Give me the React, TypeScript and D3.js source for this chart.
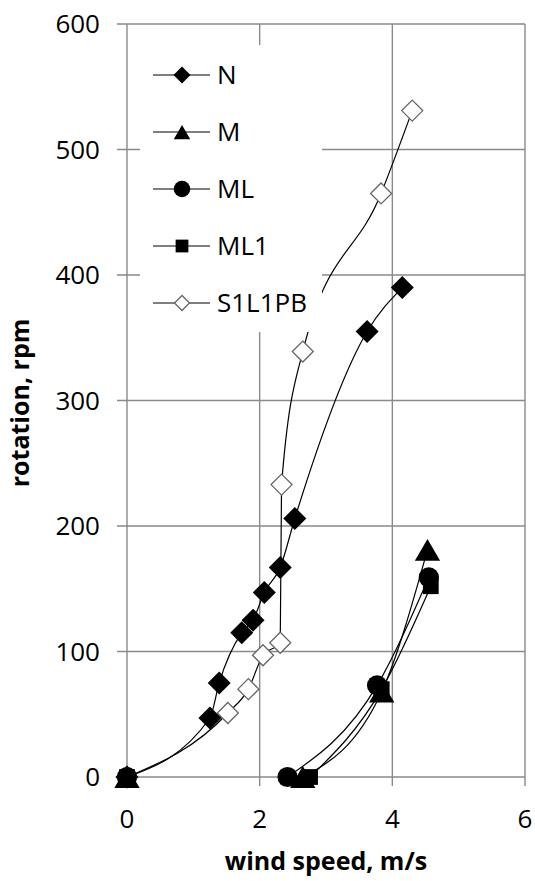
import React, { useEffect, useRef } from 'react'
import * as d3 from 'd3'

// wind speed (m/s) and rotation (rpm)
const nSpeed = [0, 1.25, 1.39, 1.73, 1.9, 2.07, 2.31, 2.53, 3.62, 4.15]
const nRpm = [0, 47, 75, 115, 125, 147, 167, 206, 355, 390]

const mSpeed = [0, 2.65, 3.84, 4.53]
const mRpm = [0, 0, 68, 181]

const mlSpeed = [0, 2.42, 3.77, 4.55]
const mlRpm = [0, 0, 73, 159]

const ml1Speed = [0, 2.76, 3.84, 4.58]
const ml1Rpm = [0, 0, 70, 152]

const sSpeed = [0, 1.52, 1.83, 2.05, 2.31, 2.33, 2.65, 3.83, 4.3]
const sRpm = [0, 51, 70, 97, 107, 233, 339, 465, 531]

const xTicks = [0, 2, 4, 6]
const yTicks = [0, 100, 200, 300, 400, 500, 600]

type Pt = { x: number; y: number }
type Series = { name: string; marker: string; pts: Pt[]; lineFrom: number }

const zip = (xs: number[], ys: number[]): Pt[] => xs.map((x, i) => ({ x, y: ys[i] }))

// the three M series have a lone marker at the origin, their lines start at the next point
const series: Series[] = [
  { name: 'N', marker: 'diamond', pts: zip(nSpeed, nRpm), lineFrom: 0 },
  { name: 'M', marker: 'triangle', pts: zip(mSpeed, mRpm), lineFrom: 1 },
  { name: 'ML', marker: 'circle', pts: zip(mlSpeed, mlRpm), lineFrom: 1 },
  { name: 'ML1', marker: 'square', pts: zip(ml1Speed, ml1Rpm), lineFrom: 1 },
  { name: 'S1L1PB', marker: 'open', pts: zip(sSpeed, sRpm), lineFrom: 0 },
]

const FONT = '"Open Sans", sans-serif'
const GRID = '#8a8a8a'

function drawMarker(g: d3.Selection<SVGGElement, unknown, null, undefined>, kind: string, cx: number, cy: number, s: number) {
  if (kind === 'diamond' || kind === 'open') {
    const r = s / 2
    g.append('path')
      .attr('d', `M${cx},${cy - r}L${cx + r},${cy}L${cx},${cy + r}L${cx - r},${cy}Z`)
      .attr('fill', kind === 'open' ? '#fff' : '#000')
      .attr('stroke', kind === 'open' ? '#666' : 'none')
      .attr('stroke-width', 1.3)
  } else if (kind === 'triangle') {
    const w = s * 1.1
    const h = s * 0.95
    g.append('path')
      .attr('d', `M${cx},${cy - h / 2}L${cx + w / 2},${cy + h / 2}L${cx - w / 2},${cy + h / 2}Z`)
      .attr('fill', '#000')
  } else if (kind === 'circle') {
    g.append('circle').attr('cx', cx).attr('cy', cy).attr('r', s * 0.46).attr('fill', '#000')
  } else {
    const a = s * 0.75
    g.append('rect').attr('x', cx - a / 2).attr('y', cy - a / 2).attr('width', a).attr('height', a).attr('fill', '#000')
  }
}

export default function App() {
  const svgRef = useRef<SVGSVGElement>(null)

  useEffect(() => {
    if (!svgRef.current) return
    const svg = d3.select(svgRef.current)
    svg.selectAll('*').remove()

    const left = 127
    const right = 525
    const top = 24
    const bottom = 777

    const x = d3.scaleLinear().domain([0, 6]).range([left, right])
    const y = d3.scaleLinear().domain([0, 600]).range([bottom, top])

    const grid = svg.append('g')
    xTicks.forEach((t) => {
      grid.append('line')
        .attr('x1', x(t)).attr('x2', x(t))
        .attr('y1', top).attr('y2', bottom + 9)
        .attr('stroke', GRID).attr('stroke-width', 1.4)
    })
    yTicks.forEach((t) => {
      grid.append('line')
        .attr('x1', left - 10).attr('x2', right)
        .attr('y1', y(t)).attr('y2', y(t))
        .attr('stroke', GRID).attr('stroke-width', 1.4)
    })

    svg.append('g')
      .selectAll('text')
      .data(yTicks)
      .join('text')
      .attr('x', 100)
      .attr('y', (d) => y(d) + 9)
      .attr('text-anchor', 'end')
      .attr('font-family', FONT)
      .attr('font-size', 26)
      .attr('fill', '#000')
      .text((d) => d)

    svg.append('g')
      .selectAll('text')
      .data(xTicks)
      .join('text')
      .attr('x', (d) => x(d))
      .attr('y', 828)
      .attr('text-anchor', 'middle')
      .attr('font-family', FONT)
      .attr('font-size', 26)
      .attr('fill', '#000')
      .text((d) => d)

    svg.append('text')
      .attr('x', (left + right) / 2)
      .attr('y', 870)
      .attr('text-anchor', 'middle')
      .attr('font-family', FONT)
      .attr('font-weight', 'bold')
      .attr('font-size', 25)
      .text('wind speed, m/s')

    svg.append('text')
      .attr('transform', `translate(29,403) rotate(-90)`)
      .attr('text-anchor', 'middle')
      .attr('font-family', FONT)
      .attr('font-weight', 'bold')
      .attr('font-size', 25)
      .text('rotation, rpm')

    const line = d3.line<Pt>()
      .x((d) => x(d.x))
      .y((d) => y(d.y))
      .curve(d3.curveMonotoneX)

    const lines = svg.append('g')
    series.forEach((s) => {
      lines.append('path')
        .attr('d', line(s.pts.slice(s.lineFrom)) || '')
        .attr('fill', 'none')
        .attr('stroke', '#000')
        .attr('stroke-width', 1.2)
    })

    // open diamonds go underneath so the clump at the origin reads black
    const marks = svg.append('g')
    const sizes: Record<string, number> = { diamond: 23, open: 21, triangle: 23, circle: 22, square: 21 }
    const order = [series[4], series[0], series[1], series[2], series[3]]
    order.forEach((s) => {
      s.pts.forEach((p) => drawMarker(marks, s.marker, x(p.x), y(p.y), sizes[s.marker]))
    })

    // legend box sits over the grid and the lines
    const legend = svg.append('g')
    legend.append('rect')
      .attr('x', 140).attr('y', 45)
      .attr('width', 182).attr('height', 287)
      .attr('fill', '#fff')
    const legendSizes: Record<string, number> = { diamond: 17, open: 15, triangle: 15, circle: 18, square: 17 }
    series.forEach((s, i) => {
      const cy = 75 + i * 57
      legend.append('line')
        .attr('x1', 153).attr('x2', 210)
        .attr('y1', cy).attr('y2', cy)
        .attr('stroke', '#000').attr('stroke-width', 1.2)
      drawMarker(legend, s.marker, 182, cy, legendSizes[s.marker])
      legend.append('text')
        .attr('x', 217)
        .attr('y', cy + 9)
        .attr('font-family', FONT)
        .attr('font-size', 26)
        .text(s.name)
    })
  }, [])

  return (
    <svg
      ref={svgRef}
      width={535}
      height={881}
      style={{ position: 'absolute', left: 0, top: 0, background: '#fff' }}
    />
  )
}
